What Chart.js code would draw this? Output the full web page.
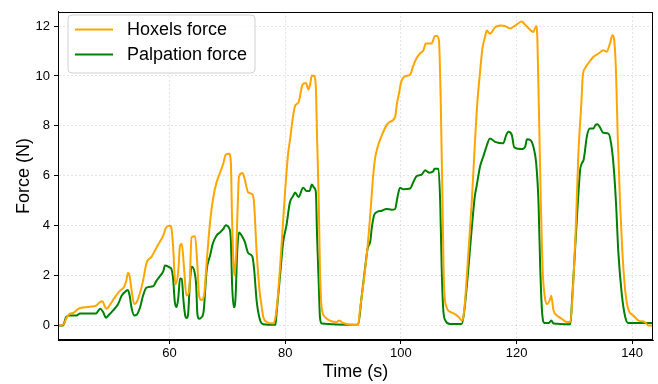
<!DOCTYPE html>
<html>
<head>
<meta charset="utf-8">
<script src="https://cdn.jsdelivr.net/npm/chart.js@4/dist/chart.umd.min.js"></script>
<style>
html,body{margin:0;padding:0;background:#fff;}
canvas{display:block;}
</style>
</head>
<body>
<canvas id="c" width="658" height="384"></canvas>
<script>
// ---- data ----
const seriesNames = ["Hoxels force", "Palpation force"];
const xTickValues = [60, 80, 100, 120, 140];
const yTickValues = [0, 2, 4, 6, 8, 10, 12];

const hoxelsTime = [40.7,41.7,42.1,42.7,43.3,44.2,45.3,46.5,47.3,47.9,48.4,48.8,49.1,49.7,50.5,51.4,52.1,52.5,52.8,53.1,53.4,53.9,54.3,54.9,55.4,56.0,56.9,57.5,58.3,58.9,59.4,60.1,60.3,60.6,61.0,61.5,61.8,62.1,62.5,62.9,63.4,63.8,64.4,64.8,65.1,65.5,65.95,66.4,67.0,67.5,68.1,68.7,69.3,69.7,70.3,70.6,70.8,71.2,71.5,71.8,72.0,72.6,73.0,73.6,74.3,74.6,75.05,75.6,75.9,76.2,76.8,77.9,78.4,78.8,79.4,80.0,80.5,80.9,81.2,81.7,82.3,82.5,83.0,83.6,84.0,84.3,84.6,85.0,85.3,85.5,85.8,86.0,86.3,86.9,87.7,88.9,89.3,90.0,91.8,92.6,92.9,93.5,94.1,94.65,95.2,95.5,96.0,96.7,97.5,98.0,99.0,99.3,99.7,100.0,100.7,101.6,102.1,102.7,103.3,103.9,104.3,105.3,105.9,106.3,106.6,106.9,107.2,107.45,107.9,108.5,109.3,110.0,110.5,110.8,111.1,111.65,112.25,112.8,113.2,113.7,114.1,114.55,114.85,115.4,116.3,117.15,118.0,118.9,119.75,120.9,121.5,122.3,122.9,123.4,123.6,123.85,124.2,124.5,124.9,125.3,125.8,126.0,126.4,127.0,127.8,128.7,129.3,129.8,130.2,130.7,131.2,131.45,131.85,132.4,133.3,134.2,135.0,135.6,136.15,136.6,136.85,137.2,137.5,137.9,138.3,138.8,139.3,140.2,141.1,142.2,142.8,143.6];
const hoxelsForce = [0,0.05,0.27,0.47,0.5,0.67,0.73,0.76,0.8,0.93,0.97,0.76,0.67,0.84,1.12,1.39,1.54,1.78,2.1,1.97,1.45,0.86,0.93,1.32,1.78,2.5,2.76,3.02,3.35,3.6,3.93,4.0,3.93,3.2,1.65,2.17,3.2,3.28,2.3,1.2,1.39,3.54,3.58,2.43,1.19,1.02,1.19,2.5,4.15,5.06,5.72,6.11,6.5,6.84,6.88,6.5,4.28,2.0,2.83,4.93,5.98,6.11,5.85,5.33,5.26,4.93,2.96,1.3,0.8,0.34,0.14,0.08,0.47,1.39,3.36,5.46,6.9,7.56,8.15,8.8,8.94,9.13,9.66,9.72,9.46,9.66,10.02,10.0,9.5,7.56,4.93,2.3,0.73,0.34,0.2,0.14,0.2,0.1,0.02,0.02,0.6,1.65,2.83,4.28,5.98,6.64,7.17,7.62,8.02,8.15,8.35,8.87,9.33,9.72,9.98,10.05,10.38,10.71,10.9,11.03,11.3,11.3,11.6,11.6,11.36,8.87,4.93,1.65,0.73,0.55,0.47,0.34,0.2,0.34,1.0,2.83,4.93,7.3,8.87,10.18,11.1,11.56,11.82,11.69,11.95,12.02,12.0,11.9,12.02,12.18,12.05,11.86,11.76,12.0,11.5,8.87,4.93,2.3,1.13,0.86,1.05,1.19,0.6,0.4,0.27,0.14,0.14,1.65,3.62,6.9,8.87,9.98,10.31,10.5,10.77,10.9,11.03,10.97,11.3,11.63,11.5,10.18,7.56,4.93,2.96,1.39,0.67,0.4,0.2,0.14,0.0,0.0];

const palpationTime = [40.7,41.56,42.1,42.7,43.9,44.5,47.3,47.6,48.0,48.5,49.0,49.4,50.2,51.1,51.7,52.5,52.8,53.1,53.4,53.9,54.3,54.9,55.4,56.0,57.2,57.7,58.3,58.9,59.2,60.0,60.3,60.6,60.9,61.2,61.5,61.8,62.1,62.4,62.7,62.95,63.2,63.5,63.8,64.3,64.6,64.8,65.1,65.5,65.9,66.4,67.0,67.5,68.1,68.7,69.3,69.7,70.3,70.6,70.8,71.1,71.4,71.7,72.0,72.6,73.0,73.6,74.3,74.6,75.05,75.6,76.2,78.3,78.5,79.1,79.65,80.2,80.8,81.4,81.7,82.3,83.1,83.7,84.2,84.6,85.0,85.3,85.5,85.8,86.0,86.3,92.6,93.2,93.8,94.26,94.7,94.95,95.35,95.8,96.7,97.5,98.4,99.0,99.4,99.85,100.4,101.6,102.1,102.7,103.6,104.2,104.9,105.6,105.8,106.5,106.8,107.06,107.3,107.7,108.5,110.5,110.9,111.6,112.25,112.8,113.1,113.7,114.25,114.8,115.4,116.3,117.7,118.2,118.6,119.2,119.6,120.9,121.5,121.8,122.4,122.9,123.4,123.8,124.1,124.4,124.8,125.6,126.0,126.4,129.3,129.6,130.1,130.6,131.0,131.3,131.6,131.85,132.15,132.7,133.3,133.6,134.0,134.4,135.0,135.9,136.35,136.75,137.2,137.6,138.2,138.8,139.3,143.6];
const palpationForce = [0,0,0.34,0.4,0.4,0.48,0.48,0.57,0.67,0.54,0.31,0.4,0.6,0.86,1.19,1.39,1.42,1.19,0.73,0.4,0.43,0.73,1.19,1.52,1.58,1.78,1.97,2.17,2.4,2.33,2.27,1.9,0.95,0.74,1.1,1.88,1.86,1.0,0.4,0.3,0.45,1.7,2.35,2.15,1.6,0.47,0.27,0.32,0.6,2.2,2.8,3.3,3.6,3.73,3.87,4.02,3.9,3.4,1.7,0.73,1.1,3.0,3.73,3.55,3.36,2.9,2.77,2.3,1.0,0.25,0.05,0.03,0.5,2.0,3.36,4.0,4.93,5.2,5.33,5.15,5.52,5.39,5.39,5.65,5.52,5.33,3.62,1.65,0.34,0.08,0.03,1.13,2.3,3.1,3.36,3.88,4.41,4.54,4.6,4.67,4.64,4.67,5.13,5.52,5.46,5.49,5.72,5.98,6.05,6.22,6.12,6.18,6.28,6.28,4.93,2.3,0.73,0.2,0.06,0.06,0.47,2.1,3.88,5.2,5.59,6.38,6.77,7.17,7.49,7.36,7.3,7.62,7.76,7.62,7.14,7.07,7.17,7.46,7.43,7.17,6.5,4.93,2.3,0.6,0.1,0.1,0.2,0.08,0.05,1.0,2.96,4.93,6.24,6.5,6.64,7.03,7.56,7.89,7.89,8.02,8.06,7.95,7.72,7.69,7.3,6.5,4.93,2.96,1.26,0.34,0.1,0.1];

const zip = (xs, ys) => xs.map((x, i) => ({x: x, y: ys[i]}));

const FONT = "'Liberation Sans', Arial, Helvetica, sans-serif";

const frameAndLegend = {
  id: 'frameAndLegend',
  afterDatasetsDraw(chart) {
    const ctx = chart.ctx;
    const a = chart.chartArea;
    ctx.save();
    ctx.strokeStyle = '#000';
    ctx.lineWidth = 1;
    ctx.strokeRect(Math.round(a.left) + 0.5, Math.round(a.top) + 0.5, Math.round(a.right - a.left) - 1, Math.round(a.bottom - a.top) - 1);
    // legend box (upper left, inside plot)
    const bx = 68, by = 15, bw = 187, bh = 58, r = 4;
    ctx.beginPath();
    ctx.moveTo(bx + r, by);
    ctx.lineTo(bx + bw - r, by);
    ctx.arcTo(bx + bw, by, bx + bw, by + r, r);
    ctx.lineTo(bx + bw, by + bh - r);
    ctx.arcTo(bx + bw, by + bh, bx + bw - r, by + bh, r);
    ctx.lineTo(bx + r, by + bh);
    ctx.arcTo(bx, by + bh, bx, by + bh - r, r);
    ctx.lineTo(bx, by + r);
    ctx.arcTo(bx, by, bx + r, by, r);
    ctx.closePath();
    ctx.fillStyle = 'rgba(255,255,255,0.8)';
    ctx.fill();
    ctx.strokeStyle = '#d0d0d0';
    ctx.lineWidth = 1;
    ctx.stroke();
    const rowsY = [29.5, 54.5];
    chart.data.datasets.forEach((ds, i) => {
      ctx.beginPath();
      ctx.strokeStyle = ds.borderColor;
      ctx.lineWidth = 2;
      ctx.moveTo(75, rowsY[i]);
      ctx.lineTo(113, rowsY[i]);
      ctx.stroke();
      ctx.fillStyle = '#000';
      ctx.font = '18px ' + FONT;
      ctx.textBaseline = 'middle';
      ctx.textAlign = 'left';
      ctx.fillText(ds.label, 127, rowsY[i] + 1);
    });
    ctx.restore();
  }
};

new Chart(document.getElementById('c'), {
  type: 'line',
  data: {
    datasets: [
      {label: seriesNames[0], data: zip(hoxelsTime, hoxelsForce), borderColor: '#FFA500', borderWidth: 2, pointRadius: 0, cubicInterpolationMode: 'monotone', fill: false},
      {label: seriesNames[1], data: zip(palpationTime, palpationForce), borderColor: '#008000', borderWidth: 2, pointRadius: 0, cubicInterpolationMode: 'monotone', fill: false}
    ]
  },
  options: {
    responsive: false,
    animation: false,
    devicePixelRatio: 1,
    layout: {padding: {top: 6, right: 5, left: 0, bottom: 0}},
    plugins: {legend: {display: false}, tooltip: {enabled: false}},
    scales: {
      x: {
        type: 'linear',
        min: 40.7, max: 143.6,
        afterBuildTicks: (s) => { s.ticks = xTickValues.map(v => ({value: v})); },
        afterFit: (s) => { s.height = 44; },
        ticks: {color: '#000', font: {family: FONT, size: 13}, padding: 2, maxRotation: 0, autoSkip: false},
        grid: {color: 'rgba(0,0,0,0.14)', lineWidth: 0.8, tickLength: 4, tickColor: '#000', tickWidth: 1, tickBorderDash: []},
        border: {display: true, color: '#000', width: 1, dash: [2, 2]},
        title: {display: true, text: 'Time (s)', color: '#000', font: {family: FONT, size: 18}, padding: {top: 0, bottom: 1}}
      },
      y: {
        type: 'linear',
        min: -0.58, max: 12.57,
        afterBuildTicks: (s) => { s.ticks = yTickValues.map(v => ({value: v})); },
        afterFit: (s) => { s.width = 58; },
        ticks: {color: '#000', font: {family: FONT, size: 13}, padding: 4},
        grid: {color: 'rgba(0,0,0,0.14)', lineWidth: 0.8, tickLength: 4, tickColor: '#000', tickWidth: 1, tickBorderDash: []},
        border: {display: true, color: '#000', width: 1, dash: [2, 2]},
        title: {display: true, text: 'Force (N)', color: '#000', font: {family: FONT, size: 18}, padding: {top: 13, bottom: 0}}
      }
    }
  },
  plugins: [frameAndLegend]
});
</script>
</body>
</html>
